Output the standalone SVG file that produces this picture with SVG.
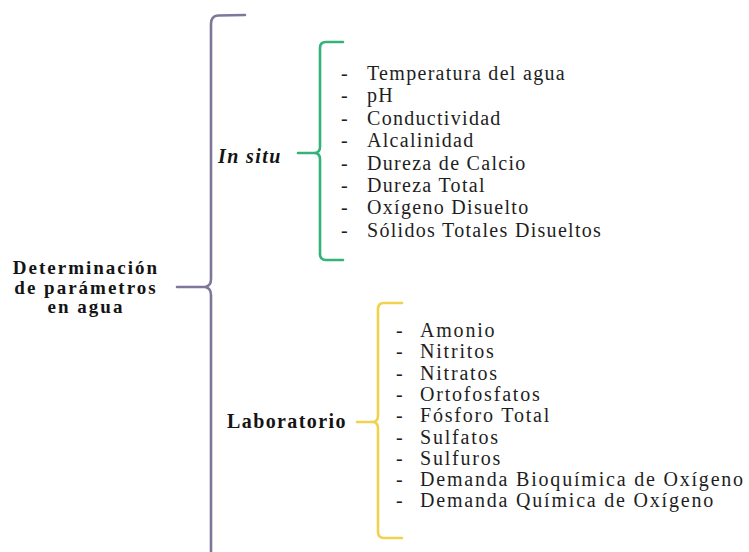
<svg xmlns="http://www.w3.org/2000/svg" width="749" height="552" viewBox="0 0 749 552">
<style>
.bg{fill:#ffffff}
.br{fill:none;stroke-width:2.6;stroke-linecap:round;stroke-linejoin:round}
.purple{stroke:#7f7699}
.green{stroke:#35b27a}
.yellow{stroke:#f0d24c}
.item{font-family:"Liberation Serif","Times New Roman",serif;font-size:20px;fill:#1e1e1e;letter-spacing:1.3px}
.yl{letter-spacing:1.8px}
.head{font-family:"Liberation Serif","Times New Roman",serif;font-weight:bold;font-size:20px;fill:#141414;letter-spacing:1.4px}
.root{font-family:"Liberation Serif","Times New Roman",serif;font-weight:bold;font-size:19px;fill:#141414;letter-spacing:2px}
</style>
<rect class="bg" x="0" y="0" width="749" height="552"/>
<g id="connectors">
<path class="br purple" d="M245,15 L218,15.5 Q211,16 211,24 L211,279 Q211,286 205,287 L177,287 M205,287 Q211,288 211,295 L211,552"/>
<path class="br green" d="M343,42 L326,42 Q320,42 320,48 L320,147 Q320,153 314,153 L298,153 M314,153 Q320,153 320,159 L320,254 Q320,260 326,260 L343,260"/>
<path class="br yellow" d="M402,303 L384,303 Q378,303 378,309 L378,416 Q378,422 372,422 L357,422 M372,422 Q378,422 378,428 L378,532 Q378,538 384,538 L402,538"/>
</g>
<g id="root">
<text class="root" x="86" y="274" text-anchor="middle">Determinación</text>
<text class="root" x="86" y="293.5" text-anchor="middle">de parámetros</text>
<text class="root" x="86" y="313" text-anchor="middle">en agua</text>
</g>
<g id="insitu">
<text class="head" x="218" y="163" font-style="italic">In situ</text>
</g>
<g id="insitu-list">
<g class="item">
<text x="341" y="80">-</text><text x="367" y="80">Temperatura del agua</text>
<text x="341" y="102.4">-</text><text x="367" y="102.4">pH</text>
<text x="341" y="124.8">-</text><text x="367" y="124.8">Conductividad</text>
<text x="341" y="147.2">-</text><text x="367" y="147.2">Alcalinidad</text>
<text x="341" y="169.6">-</text><text x="367" y="169.6">Dureza de Calcio</text>
<text x="341" y="192">-</text><text x="367" y="192">Dureza Total</text>
<text x="341" y="214.4">-</text><text x="367" y="214.4">Oxígeno Disuelto</text>
<text x="341" y="236.8">-</text><text x="367" y="236.8">Sólidos Totales Disueltos</text>
</g>
</g>
<g id="laboratorio">
<text class="head" x="227" y="428">Laboratorio</text>
</g>
<g id="lab-list">
<g class="item yl">
<text x="396" y="337">-</text><text x="420" y="337">Amonio</text>
<text x="396" y="358.3">-</text><text x="420" y="358.3">Nitritos</text>
<text x="396" y="379.6">-</text><text x="420" y="379.6">Nitratos</text>
<text x="396" y="400.9">-</text><text x="420" y="400.9">Ortofosfatos</text>
<text x="396" y="422.2">-</text><text x="420" y="422.2">Fósforo Total</text>
<text x="396" y="443.5">-</text><text x="420" y="443.5">Sulfatos</text>
<text x="396" y="464.8">-</text><text x="420" y="464.8">Sulfuros</text>
<text x="396" y="486.1">-</text><text x="420" y="486.1">Demanda Bioquímica de Oxígeno</text>
<text x="396" y="507.4">-</text><text x="420" y="507.4">Demanda Química de Oxígeno</text>
</g>
</g>
</svg>
